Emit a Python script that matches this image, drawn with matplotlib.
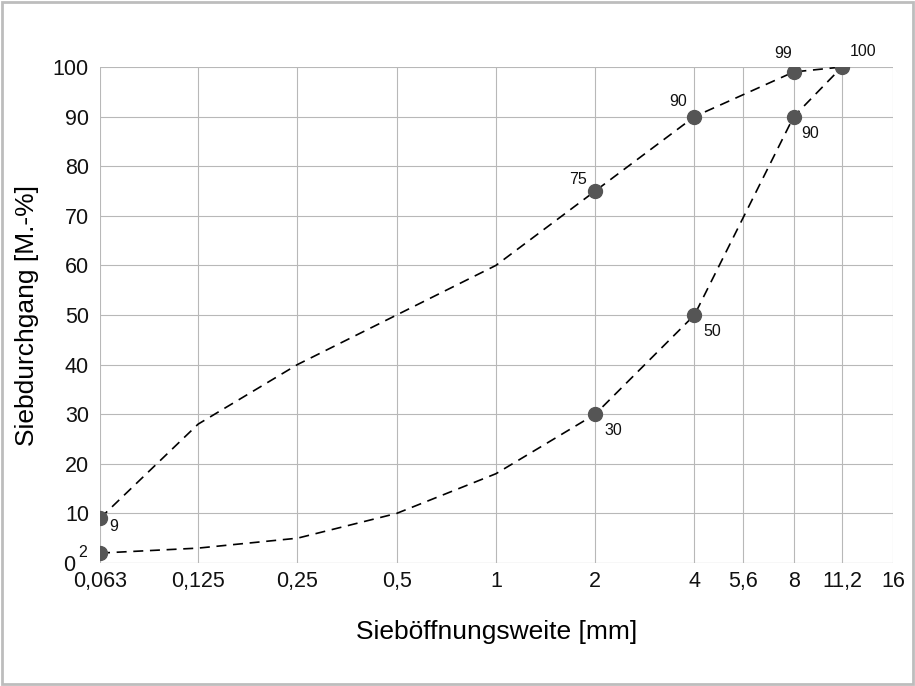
import matplotlib
matplotlib.use("Agg")
import matplotlib.pyplot as plt
import matplotlib.transforms as mtransforms
from matplotlib.patches import Rectangle

plt.rcParams['font.family'] = ['Liberation Sans', 'DejaVu Sans']

# sieve sizes in mm
sieve = [0.063, 0.125, 0.25, 0.5, 1, 2, 4, 8, 11.2]
tick_pos = [0.063, 0.125, 0.25, 0.5, 1, 2, 4, 5.6, 8, 11.2, 16]
tick_lbl = ['0,063', '0,125', '0,25', '0,5', '1', '2', '4', '5,6', '8', '11,2', '16']

# upper and lower grading curve (Siebdurchgang in M.-%)
upper = [9, 28, 40, 50, 60, 75, 90, 99, 100]
lower = [2, 3, 5, 10, 18, 30, 50, 90, 100]

# marked points
up_pts_x = [0.063, 2, 4, 8, 11.2]
up_pts_y = [9, 75, 90, 99, 100]
lo_pts_x = [0.063, 2, 4, 8]
lo_pts_y = [2, 30, 50, 90]

# labels: (x, y, text, dx px, dy px)
labels = [
    (0.063, 9, '9', 14, -8),
    (0.063, 2, '2', -17, 1),
    (2, 75, '75', -17, 12),
    (4, 90, '90', -16, 15),
    (8, 99, '99', -11, 18),
    (11.2, 100, '100', 21, 15),
    (8, 90, '90', 16, -17),
    (4, 50, '50', 18, -16),
    (2, 30, '30', 18, -16),
]

fig = plt.figure(figsize=(9.15, 6.86), dpi=100)
fig.patches.append(Rectangle((0.002, 0.003), 0.996, 0.994, transform=fig.transFigure,
                             fill=False, edgecolor='#bdbdbd', linewidth=2))

ax = fig.add_axes([100/915, (686-563)/686, 793/915, 496/686])
ax.set_xscale('log', base=2)
ax.set_xlim(0.063, 16)
ax.set_ylim(0, 100)

ax.plot(sieve, upper, color='k', linestyle=(0, (6, 4)), linewidth=1.2, zorder=3)
ax.plot(sieve, lower, color='k', linestyle=(0, (6, 4)), linewidth=1.2, zorder=3)
ax.plot(up_pts_x, up_pts_y, 'o', color='#555555', markersize=10, zorder=4)
ax.plot(lo_pts_x, lo_pts_y, 'o', color='#555555', markersize=10, zorder=4)

for x, y, t, dx, dy in labels:
    ax.annotate(t, (x, y), xytext=(dx, dy), textcoords='offset pixels',
                ha='center', va='center', fontsize=11.5, color='#111111')

ax.set_xticks(tick_pos)
ax.set_xticklabels(tick_lbl)
ax.minorticks_off()
ax.set_yticks(range(0, 101, 10))
ax.tick_params(axis='both', length=0, labelsize=15.5, colors='#111111')
ax.tick_params(axis='x', pad=6)
ax.tick_params(axis='y', pad=8)

# the "0" label sits a bit further left, beside the "2" label
lbl0 = ax.get_yticklabels()[0]
lbl0.set_transform(lbl0.get_transform() +
                   mtransforms.ScaledTranslation(-14/100, 0, fig.dpi_scale_trans))

ax.grid(True, color='#b8b8b8', linewidth=0.8)
for s in ax.spines.values():
    s.set_visible(False)
ax.axhline(0, color='#b8b8b8', linewidth=0.8)

ax.set_xlabel('Sieböffnungsweite [mm]', fontsize=19, labelpad=20)
ax.set_ylabel('Siebdurchgang [M.-%]', fontsize=19, labelpad=10)

fig.savefig('out.png', dpi=100)
